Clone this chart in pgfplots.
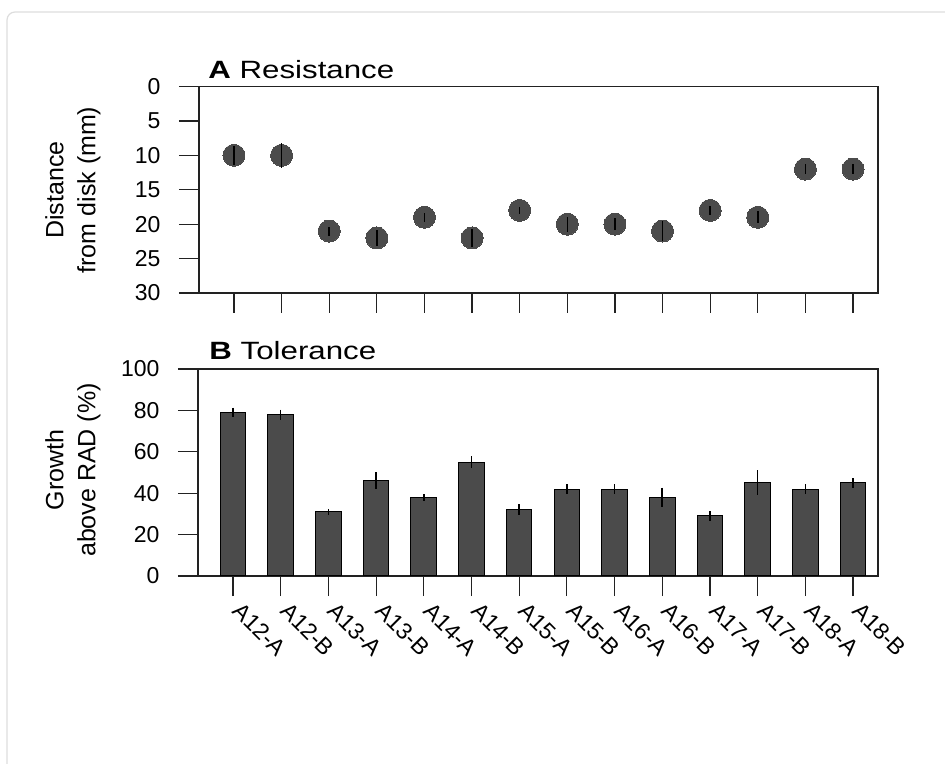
\documentclass[border=0pt]{standalone}
\usepackage{pgfplots}
\pgfplotsset{compat=1.18}
\usepackage{fontspec}
\setmainfont{Liberation Sans}
\definecolor{dk}{HTML}{4B4B4B}
\definecolor{bord}{HTML}{DDDDDD}
\definecolor{ax}{HTML}{222222}

\begin{document}
\begin{tikzpicture}
\path[use as bounding box] (0pt,0pt) rectangle (945pt,763pt);
\draw[bord, line width=1.2pt, rounded corners=8pt] (7pt,-5pt) -- (7pt,751pt) -- (955pt,751pt);

\pgfplotsset{
 every axis/.append style={
  scale only axis,
  axis line style={line width=1.4pt, ax},
  tick style={line width=1.2pt, ax},
  tick align=outside, major tick length=20pt,
  tick label style={font=\fontsize{23}{27}\selectfont},
  yticklabel style={xshift=-15pt},
  /pgf/number format/assume math mode=true,
  xmin=-0.735, xmax=13.525,
  xtick={0,...,13},
  xtick pos=lower, ytick pos=left,
 }
}

\begin{axis}[at={(199pt,470pt)}, anchor=south west, width=679pt, height=206.5pt,
  ymin=0, ymax=30, y dir=reverse, ytick={0,5,...,30}, xticklabels={},
  clip marker paths=true, clip=false]
\addplot[dk, only marks, mark=*, mark size=11pt, mark options={draw=dk, fill=dk, line width=0pt}] table[x=x, y=y] {
x y err
0 10 1.4
1 10 1.8
2 21 0.65
3 22 1.2
4 19 0.65
5 22 1.3
6 18 0.5
7 20 1.1
8 20 0.85
9 21 1.5
10 18 0.65
11 19 0.85
12 12 0.7
13 12 0.7
};
\addplot[draw=none, mark=none, error bars/.cd, y dir=both, y explicit, error mark=none,
  error bar style={draw=black, solid, line width=1.5pt}] table[x=x, y=y, y error=err] {
x y err
0 10 1.4
1 10 1.8
2 21 0.65
3 22 1.2
4 19 0.65
5 22 1.3
6 18 0.5
7 20 1.1
8 20 0.85
9 21 1.5
10 18 0.65
11 19 0.85
12 12 0.7
13 12 0.7
};
\end{axis}

\begin{axis}[at={(198pt,187pt)}, anchor=south west, width=680pt, height=207pt,
  ymin=0, ymax=100, ytick={0,20,...,100},
  xticklabels={A12-A,A12-B,A13-A,A13-B,A14-A,A14-B,A15-A,A15-B,A16-A,A16-B,A17-A,A17-B,A18-A,A18-B},
  xticklabel style={rotate=-45, anchor=north west, xshift=7pt, yshift=7pt}]
\addplot[ybar, bar width=25.6pt, fill=dk, draw=black, line width=1pt,
  error bars/.cd, y dir=both, y explicit, error mark=none,
  error bar style={draw=black, line width=1.5pt}] table[x=x, y=y, y error=err] {
x y err
0 79 2.3
1 78 2.4
2 31 1.4
3 46 4
4 38 1.6
5 55 2.8
6 32 2.7
7 42 2.3
8 42 2.3
9 38 4.7
10 29 2.2
11 45 6
12 42 2.3
13 45 2.3
};
\end{axis}

\node[anchor=base west, font=\fontsize{25}{30}\selectfont, xscale=1.25] at (204pt,684pt) {\textbf{A} Resistance};
\node[anchor=base west, font=\fontsize{25}{30}\selectfont, xscale=1.25] at (205pt,403pt) {\textbf{B} Tolerance};
\node[rotate=90, align=center, font=\fontsize{25}{32}\selectfont] at (73pt,573pt) {Distance\\from disk (mm)};
\node[rotate=90, align=center, font=\fontsize{25}{32}\selectfont] at (73pt,293pt) {Growth\\above RAD (\%)};
\end{tikzpicture}
\end{document}
